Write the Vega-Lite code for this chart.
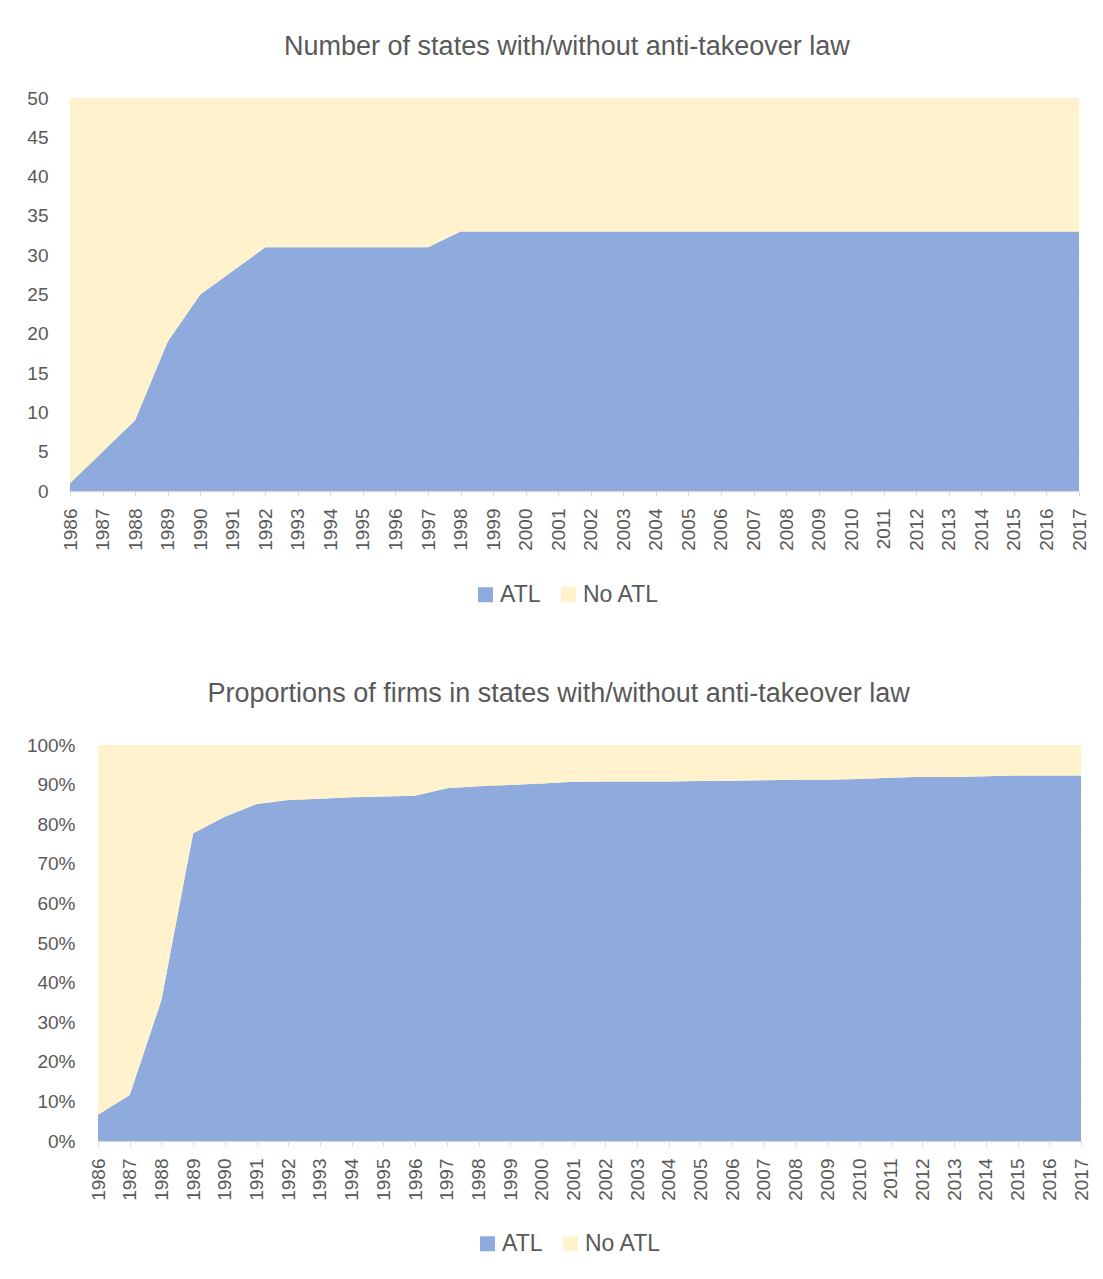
{
  "$schema": "https://vega.github.io/schema/vega-lite/v6.json",
  "background": "white",
  "padding": {"left": 26, "top": 33, "right": 10, "bottom": 10},
  "spacing": 73,
  "datasets": {
    "states": [
      {"year": 1986, "ATL": 1, "No ATL": 49},
      {"year": 1987, "ATL": 5, "No ATL": 45},
      {"year": 1988, "ATL": 9, "No ATL": 41},
      {"year": 1989, "ATL": 19, "No ATL": 31},
      {"year": 1990, "ATL": 25, "No ATL": 25},
      {"year": 1991, "ATL": 28, "No ATL": 22},
      {"year": 1992, "ATL": 31, "No ATL": 19},
      {"year": 1993, "ATL": 31, "No ATL": 19},
      {"year": 1994, "ATL": 31, "No ATL": 19},
      {"year": 1995, "ATL": 31, "No ATL": 19},
      {"year": 1996, "ATL": 31, "No ATL": 19},
      {"year": 1997, "ATL": 31, "No ATL": 19},
      {"year": 1998, "ATL": 33, "No ATL": 17},
      {"year": 1999, "ATL": 33, "No ATL": 17},
      {"year": 2000, "ATL": 33, "No ATL": 17},
      {"year": 2001, "ATL": 33, "No ATL": 17},
      {"year": 2002, "ATL": 33, "No ATL": 17},
      {"year": 2003, "ATL": 33, "No ATL": 17},
      {"year": 2004, "ATL": 33, "No ATL": 17},
      {"year": 2005, "ATL": 33, "No ATL": 17},
      {"year": 2006, "ATL": 33, "No ATL": 17},
      {"year": 2007, "ATL": 33, "No ATL": 17},
      {"year": 2008, "ATL": 33, "No ATL": 17},
      {"year": 2009, "ATL": 33, "No ATL": 17},
      {"year": 2010, "ATL": 33, "No ATL": 17},
      {"year": 2011, "ATL": 33, "No ATL": 17},
      {"year": 2012, "ATL": 33, "No ATL": 17},
      {"year": 2013, "ATL": 33, "No ATL": 17},
      {"year": 2014, "ATL": 33, "No ATL": 17},
      {"year": 2015, "ATL": 33, "No ATL": 17},
      {"year": 2016, "ATL": 33, "No ATL": 17},
      {"year": 2017, "ATL": 33, "No ATL": 17}
    ],
    "firms": [
      {"year": 1986, "ATL": 0.066, "No ATL": 0.934},
      {"year": 1987, "ATL": 0.116, "No ATL": 0.884},
      {"year": 1988, "ATL": 0.356, "No ATL": 0.644},
      {"year": 1989, "ATL": 0.777, "No ATL": 0.223},
      {"year": 1990, "ATL": 0.819, "No ATL": 0.181},
      {"year": 1991, "ATL": 0.851, "No ATL": 0.149},
      {"year": 1992, "ATL": 0.861, "No ATL": 0.139},
      {"year": 1993, "ATL": 0.864, "No ATL": 0.136},
      {"year": 1994, "ATL": 0.868, "No ATL": 0.132},
      {"year": 1995, "ATL": 0.870, "No ATL": 0.130},
      {"year": 1996, "ATL": 0.872, "No ATL": 0.128},
      {"year": 1997, "ATL": 0.891, "No ATL": 0.109},
      {"year": 1998, "ATL": 0.896, "No ATL": 0.104},
      {"year": 1999, "ATL": 0.899, "No ATL": 0.101},
      {"year": 2000, "ATL": 0.903, "No ATL": 0.097},
      {"year": 2001, "ATL": 0.907, "No ATL": 0.093},
      {"year": 2002, "ATL": 0.908, "No ATL": 0.092},
      {"year": 2003, "ATL": 0.908, "No ATL": 0.092},
      {"year": 2004, "ATL": 0.908, "No ATL": 0.092},
      {"year": 2005, "ATL": 0.909, "No ATL": 0.091},
      {"year": 2006, "ATL": 0.910, "No ATL": 0.090},
      {"year": 2007, "ATL": 0.911, "No ATL": 0.089},
      {"year": 2008, "ATL": 0.912, "No ATL": 0.088},
      {"year": 2009, "ATL": 0.912, "No ATL": 0.088},
      {"year": 2010, "ATL": 0.914, "No ATL": 0.086},
      {"year": 2011, "ATL": 0.917, "No ATL": 0.083},
      {"year": 2012, "ATL": 0.920, "No ATL": 0.080},
      {"year": 2013, "ATL": 0.919, "No ATL": 0.081},
      {"year": 2014, "ATL": 0.921, "No ATL": 0.079},
      {"year": 2015, "ATL": 0.923, "No ATL": 0.077},
      {"year": 2016, "ATL": 0.923, "No ATL": 0.077},
      {"year": 2017, "ATL": 0.923, "No ATL": 0.077}
    ]
  },
  "vconcat": [
    {
      "width": 981,
      "height": 393,
      "title": {"text": "Number of states with/without anti-takeover law", "frame": "bounds", "anchor": "middle", "offset": 28},
      "data": {"name": "states"},
      "transform": [{"fold": ["ATL", "No ATL"], "as": ["series", "value"]}],
      "mark": {"type": "area", "opacity": 1, "clip": false},
      "encoding": {
        "x": {"field": "year", "type": "ordinal", "scale": {"type": "point", "padding": 0, "range": [-28, 981]}, "axis": {"title": null}},
        "y": {"field": "value", "type": "quantitative", "stack": "zero", "scale": {"domain": [0, 50], "nice": false}, "axis": {"title": null, "offset": 28, "labelPadding": 22, "values": [0, 5, 10, 15, 20, 25, 30, 35, 40, 45, 50]}},
        "color": {"field": "series", "type": "nominal", "scale": {"domain": ["ATL", "No ATL"], "range": ["#8FAADC", "#FFF2CC"]}, "legend": {"title": null, "orient": "none", "direction": "horizontal", "legendX": 376, "legendY": 485}},
        "order": {"field": "series", "type": "ordinal", "sort": "ascending"}
      }
    },
    {
      "width": 983,
      "height": 396,
      "title": {"text": "Proportions of firms in states with/without anti-takeover law", "frame": "bounds", "anchor": "middle", "offset": 28},
      "data": {"name": "firms"},
      "transform": [{"fold": ["ATL", "No ATL"], "as": ["series", "value"]}],
      "mark": {"type": "area", "opacity": 1},
      "encoding": {
        "x": {"field": "year", "type": "ordinal", "scale": {"type": "point", "padding": 0}, "axis": {"title": null}},
        "y": {"field": "value", "type": "quantitative", "stack": "zero", "scale": {"domain": [0, 1], "nice": false}, "axis": {"title": null, "format": ".0%", "labelPadding": 23, "values": [0, 0.1, 0.2, 0.3, 0.4, 0.5, 0.6, 0.7, 0.8, 0.9, 1]}},
        "color": {"field": "series", "type": "nominal", "scale": {"domain": ["ATL", "No ATL"], "range": ["#8FAADC", "#FFF2CC"]}, "legend": {"title": null, "orient": "none", "direction": "horizontal", "legendX": 378, "legendY": 487}},
        "order": {"field": "series", "type": "ordinal", "sort": "ascending"}
      }
    }
  ],
  "resolve": {"scale": {"color": "independent", "x": "independent"}, "legend": {"color": "independent"}},
  "config": {
    "font": "Liberation Sans",
    "view": {"stroke": null},
    "title": {"fontSize": 27, "fontWeight": "normal", "color": "#595959", "font": "Liberation Sans"},
    "axis": {"labelFontSize": 19, "labelColor": "#595959", "labelFont": "Liberation Sans", "gridColor": "#D9D9D9", "domainColor": "#D9D9D9", "tickColor": "#D9D9D9"},
    "axisX": {"labelAngle": 270, "tickSize": 5, "labelPadding": 12, "grid": false, "domainWidth": 1.5},
    "axisY": {"ticks": false, "domain": false, "labelPadding": 20, "grid": true},
    "legend": {"labelFontSize": 23, "labelColor": "#595959", "symbolType": "square", "symbolSize": 225, "symbolStrokeWidth": 0, "columnPadding": 16, "labelOffset": 3}
  }
}
